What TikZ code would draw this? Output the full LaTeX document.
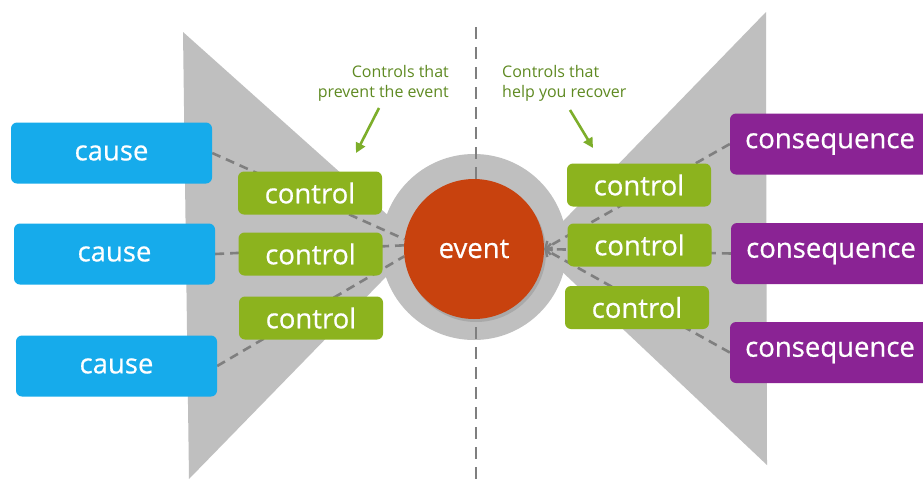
\documentclass[tikz,border=0pt]{standalone}
\usepackage{fontspec}
\setmainfont{Open Sans}
\newfontfamily\labelfont{Open Sans}[FakeBold=0.6]
\usetikzlibrary{arrows.meta,shadows}

\definecolor{causeblue}{HTML}{16ABEB}
\definecolor{ctrlgreen}{HTML}{8CB31E}
\definecolor{conspurple}{HTML}{8A2394}
\definecolor{eventred}{HTML}{C8420E}
\definecolor{wedgegray}{HTML}{BFBFBF}
\definecolor{linkgray}{HTML}{7F7F7F}
\definecolor{notegreen}{HTML}{5F8A22}
\definecolor{arrowgreen}{HTML}{7DAE2A}

\pgfdeclarelayer{bg}
\pgfsetlayers{bg,main}

\begin{document}
\begin{tikzpicture}[x=1pt,y=-1pt,
  box/.style={rounded corners=6pt, text=white, inner sep=0pt,
    font=\labelfont\fontsize{27.5}{32}\selectfont},
  causebox/.style={box, fill=causeblue, minimum width=201pt, minimum height=61pt},
  ctrlbox/.style={box, fill=ctrlgreen, minimum width=144pt, minimum height=43pt},
  consbox/.style={box, fill=conspurple, minimum width=200pt, minimum height=61pt},
  link/.style={draw=linkgray, line width=2.6pt, dash pattern=on 9pt off 6pt},
  linkarrow/.style={link, -{Straight Barb[length=5pt,width=11pt,line width=2.4pt]}},
  divider/.style={draw=linkgray, line width=2.6pt, dash pattern=on 12pt off 8pt},
  note/.style={text=notegreen, font=\fontsize{16}{20}\selectfont, inner sep=0pt},
  pointer/.style={draw=arrowgreen, line width=2.6pt,
    -{Triangle[length=10pt,width=10pt]}},
]
\clip (0,0) rectangle (923,479);

% causes
\node[causebox] (c1) at (111.5,153) {cause};
\node[causebox] (c2) at (114.5,254) {cause};
\node[causebox] (c3) at (116.5,366) {cause};

% preventive controls
\node[ctrlbox] (p1) at (310,193) {control};
\node[ctrlbox] (p2) at (310.5,254) {control};
\node[ctrlbox] (p3) at (311,318) {control};

% recovery controls
\node[ctrlbox] (r1) at (639,185) {control};
\node[ctrlbox] (r2) at (639.5,245) {control};
\node[ctrlbox] (r3) at (637,307.5) {control};

% consequences
\node[consbox] (q1) at (830,144) {consequence};
\node[consbox] (q2) at (831,253.5) {consequence};
\node[consbox] (q3) at (830,352.5) {consequence};

% the central event
\node[circle, fill=eventred, minimum size=140pt, inner sep=0pt, text=white,
  font=\labelfont\fontsize{27.5}{32}\selectfont,
  drop shadow={opacity=0.35, shadow xshift=2pt, shadow yshift=-3pt}]
  (ev) at (474,249) {event};

% annotations
\node[note, anchor=north east, align=right] (noteL) at (449,65)
  {Controls that\\prevent the event};
\node[note, anchor=north west, align=left] (noteR) at (502,65)
  {Controls that\\help you recover};
\coordinate (pL1) at (379,108);
\coordinate (pL2) at (356,153);
\coordinate (pR1) at (570,110);
\coordinate (pR2) at (593,148);
\draw[pointer] (pL1) -- (pL2);
\draw[pointer] (pR1) -- (pR2);

% background: wedges, halo, divider and links
\coordinate (divtop) at (476,27);
\coordinate (divbot) at (476,479);
\begin{pgfonlayer}{bg}
  \fill[white] (0,0) rectangle (923,479);
  \fill[wedgegray] (183,32) -- (419,243) -- (189,479) -- cycle;
  \fill[wedgegray] (766,12) -- (537,248) -- (767,465) -- cycle;
  \fill[wedgegray] (474,247) circle (93pt);
  \draw[divider] (divtop) -- (divbot);
  \draw[link] (c1.east) -- (ev.172);
  \draw[link] (c2.east) -- (ev.177);
  \draw[link] (c3.east) -- (ev.186);
  \draw[linkarrow] (q1.west) -- (ev.east);
  \draw[linkarrow] (q2.west) -- (ev.east);
  \draw[linkarrow] (q3.west) -- (ev.east);
\end{pgfonlayer}
\end{tikzpicture}
\end{document}
